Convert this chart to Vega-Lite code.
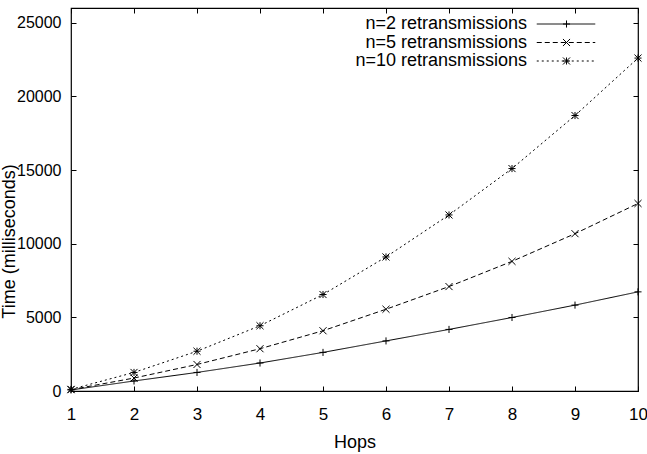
{
  "$schema": "https://vega.github.io/schema/vega-lite/v6.json",
  "width": 567,
  "height": 383,
  "autosize": {"type": "none"},
  "padding": {"left": 71, "top": 8, "right": 9, "bottom": 63},
  "background": "white",
  "config": {
    "view": {"stroke": "black", "strokeWidth": 1.2},
    "font": "Liberation Sans",
    "axis": {"grid": false, "domain": false, "labelFlush": false, "tickColor": "black", "tickSize": -5, "tickWidth": 1, "labelColor": "black", "labelFont": "Liberation Sans", "labelFontSize": 17, "titleFont": "Liberation Sans", "titleFontSize": 18, "titleFontWeight": "normal", "titleColor": "black"},
    "legend": {"labelFont": "Liberation Sans", "labelFontSize": 18, "labelColor": "black", "labelLimit": 0, "padding": 0, "offset": 0}
  },
  "data": {
    "values": [
      {"hops": 1, "series": "n=2 retransmissions", "time": 70},
      {"hops": 2, "series": "n=2 retransmissions", "time": 680},
      {"hops": 3, "series": "n=2 retransmissions", "time": 1260},
      {"hops": 4, "series": "n=2 retransmissions", "time": 1900},
      {"hops": 5, "series": "n=2 retransmissions", "time": 2620},
      {"hops": 6, "series": "n=2 retransmissions", "time": 3400},
      {"hops": 7, "series": "n=2 retransmissions", "time": 4180},
      {"hops": 8, "series": "n=2 retransmissions", "time": 4990},
      {"hops": 9, "series": "n=2 retransmissions", "time": 5830},
      {"hops": 10, "series": "n=2 retransmissions", "time": 6730},
      {"hops": 1, "series": "n=5 retransmissions", "time": 90},
      {"hops": 2, "series": "n=5 retransmissions", "time": 880},
      {"hops": 3, "series": "n=5 retransmissions", "time": 1800},
      {"hops": 4, "series": "n=5 retransmissions", "time": 2870},
      {"hops": 5, "series": "n=5 retransmissions", "time": 4090},
      {"hops": 6, "series": "n=5 retransmissions", "time": 5550},
      {"hops": 7, "series": "n=5 retransmissions", "time": 7090},
      {"hops": 8, "series": "n=5 retransmissions", "time": 8800},
      {"hops": 9, "series": "n=5 retransmissions", "time": 10680},
      {"hops": 10, "series": "n=5 retransmissions", "time": 12730},
      {"hops": 1, "series": "n=10 retransmissions", "time": 110},
      {"hops": 2, "series": "n=10 retransmissions", "time": 1260},
      {"hops": 3, "series": "n=10 retransmissions", "time": 2700},
      {"hops": 4, "series": "n=10 retransmissions", "time": 4430},
      {"hops": 5, "series": "n=10 retransmissions", "time": 6550},
      {"hops": 6, "series": "n=10 retransmissions", "time": 9100},
      {"hops": 7, "series": "n=10 retransmissions", "time": 11950},
      {"hops": 8, "series": "n=10 retransmissions", "time": 15100},
      {"hops": 9, "series": "n=10 retransmissions", "time": 18700},
      {"hops": 10, "series": "n=10 retransmissions", "time": 22600}
    ]
  },
  "layer": [
    {
      "mark": {"type": "line", "color": "black", "strokeWidth": 1},
      "encoding": {
        "x": {"field": "hops", "type": "quantitative", "scale": {"domain": [1, 10], "nice": false, "zero": false},
              "axis": {"orient": "bottom", "values": [1,2,3,4,5,6,7,8,9,10], "labelPadding": 20, "title": "Hops", "titleBaseline": "alphabetic", "titleY": 56}},
        "y": {"field": "time", "type": "quantitative", "scale": {"domain": [0, 26000], "nice": false},
              "axis": {"orient": "left", "values": [0,5000,10000,15000,20000,25000], "format": "d", "labelFontSize": 16, "labelPadding": 15, "title": "Time (milliseconds)", "titleX": -56.5, "titleY": 233, "titleBaseline": "alphabetic", "titleAngle": -90}},
        "strokeDash": {"field": "series", "type": "nominal",
              "scale": {"domain": ["n=2 retransmissions", "n=5 retransmissions", "n=10 retransmissions"], "range": [[1, 0], [5, 3], [2, 3]]},
              "legend": {"title": null, "orient": "none", "legendX": 486, "legendY": 7, "symbolType": "M-6.5,0L6.5,0", "symbolSize": 81, "symbolStrokeColor": "black", "symbolStrokeWidth": 1, "labelAlign": "right", "labelOffset": -48, "rowPadding": 0.5}}
      }
    },
    {
      "mark": {"type": "point", "color": "black", "filled": false, "strokeWidth": 1, "size": 50, "opacity": 1},
      "encoding": {
        "x": {"field": "hops", "type": "quantitative", "axis": {"orient": "top", "values": [1,2,3,4,5,6,7,8,9,10], "labels": false, "title": null}},
        "y": {"field": "time", "type": "quantitative", "axis": {"orient": "right", "values": [0,5000,10000,15000,20000,25000], "labels": false, "title": null}},
        "shape": {"field": "series", "type": "nominal",
              "sort": ["n=2 retransmissions", "n=5 retransmissions", "n=10 retransmissions"],
              "scale": {"range": ["M-1,0L1,0M0,-1L0,1", "M-1,-1L1,1M-1,1L1,-1", "M-1,0L1,0M0,-1L0,1M-1,-1L1,1M-1,1L1,-1"]},
              "legend": {"title": null, "orient": "none", "legendX": 486.5, "legendY": 7, "symbolSize": 50, "symbolStrokeColor": "black", "symbolStrokeWidth": 1, "symbolFillColor": "transparent", "labelOpacity": 0, "labelAlign": "right", "labelOffset": -48, "rowPadding": 0.5}}
      }
    }
  ]
}
